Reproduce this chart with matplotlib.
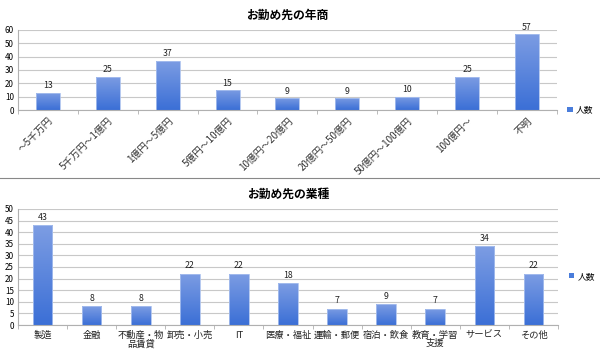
import matplotlib
matplotlib.use("Agg")
import matplotlib.pyplot as plt
import numpy as np
from matplotlib.colors import LinearSegmentedColormap
from matplotlib.patches import Patch

plt.rcParams['font.family'] = ['Noto Sans CJK JP', 'DejaVu Sans']

# Data
rev_title = "お勤め先の年商"
rev_cats = ["〜5千万円", "5千万円〜1億円", "1億円〜5億円", "5億円〜10億円", "10億円〜20億円",
            "20億円〜50億円", "50億円〜100億円", "100億円〜", "不明"]
rev_vals = [13, 25, 37, 15, 9, 9, 10, 25, 57]

ind_title = "お勤め先の業種"
ind_cats = ["製造", "金融", "不動産・物\n品賃貸", "卸売・小売", "IT", "医療・福祉",
            "運輸・郵便", "宿泊・飲食", "教育・学習\n支援", "サービス", "その他"]
ind_vals = [43, 8, 8, 22, 22, 18, 7, 9, 7, 34, 22]

legend_label = "人数"

cmap = LinearSegmentedColormap.from_list("g", ["#3b6fd6", "#7d9de3"])
grad = np.linspace(0, 1, 256).reshape(-1, 1)

fig = plt.figure(figsize=(6, 3.56), dpi=100)

def draw(ax, cats, vals, ymax, ystep, title, rot):
    x = np.arange(len(cats))
    bars = ax.bar(x, vals, width=0.4, color="none", edgecolor="#a9c0ee", linewidth=0.6, zorder=3)
    for b in bars:
        x0, y0 = b.get_x(), b.get_y()
        w, h = b.get_width(), b.get_height()
        im = ax.imshow(grad, cmap=cmap, origin="lower", aspect="auto",
                       extent=[x0, x0 + w, y0, y0 + h], zorder=2)
        im.set_clip_path(b)
        ax.text(x0 + w / 2, h + ymax * 0.03, str(int(h)), ha="center", va="bottom",
                fontsize=6.3, color="#222222")
    ax.set_xlim(-0.5, len(cats) - 0.5)
    ax.set_ylim(0, ymax)
    ax.set_yticks(np.arange(0, ymax + 1, ystep))
    ax.yaxis.grid(True, color="#c8c8c8", linewidth=0.8, zorder=0)
    ax.set_axisbelow(True)
    for s in ["top", "right"]:
        ax.spines[s].set_visible(False)
    ax.spines["left"].set_color("#b0b0b0")
    ax.spines["bottom"].set_color("#b0b0b0")
    ax.tick_params(axis="y", length=0, labelsize=5.8, pad=3)
    ax.set_xticks(x)
    if rot:
        ax.set_xticklabels(cats, rotation=45, ha="right", rotation_mode="anchor", fontsize=7, color="#333333")
    else:
        ax.set_xticklabels(cats, fontsize=6.7, color="#222222", linespacing=0.95)
    ax.tick_params(axis="x", length=0, pad=4)
    ax.set_xticks(np.arange(-0.5, len(cats), 1), minor=True)
    ax.tick_params(axis="x", which="minor", length=3, color="#b0b0b0")
    ax.set_title(title, fontsize=8.5, fontweight="bold", pad=8)
    ax.legend(handles=[Patch(facecolor="#4a7ddb", edgecolor="none")], labels=[legend_label],
              loc="center left", bbox_to_anchor=(1.005, 0.5), frameon=False,
              fontsize=6.3, handlelength=0.6, handleheight=0.6, handletextpad=0.4)

ax1 = fig.add_axes([0.030, 0.691, 0.898, 0.225])
draw(ax1, rev_cats, rev_vals, 60, 10, rev_title, True)
ax1.get_legend().set_bbox_to_anchor((1.005, 0.0))

ax2 = fig.add_axes([0.030, 0.087, 0.900, 0.326])
draw(ax2, ind_cats, ind_vals, 50, 5, ind_title, False)
ax2.get_legend().set_bbox_to_anchor((1.005, 0.42))

fig.add_artist(plt.Line2D([0, 1], [1 - 178 / 356] * 2, color="#888888", linewidth=0.8))

fig.savefig("out.png", dpi=100)
